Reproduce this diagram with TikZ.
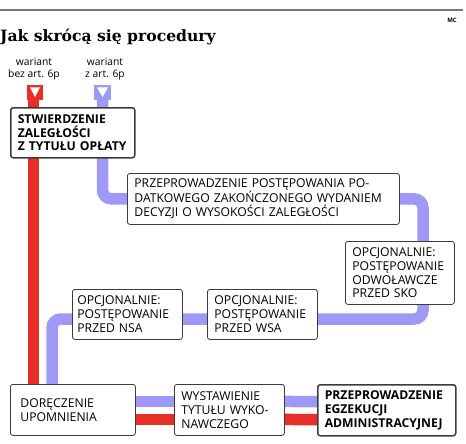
\documentclass[tikz,border=0pt]{standalone}
\usepackage{fontspec}
\setmainfont{Open Sans}
\newfontfamily\titlefont{DejaVu Serif}
\usetikzlibrary{backgrounds}
\definecolor{redc}{RGB}{232,46,40}
\definecolor{bluec}{RGB}{158,152,246}
\definecolor{boxc}{RGB}{60,60,60}
\definecolor{rulec}{RGB}{120,120,120}
\tikzset{
  stepbox/.style={draw=boxc, fill=white, rounded corners=2.5pt, line width=0.8pt,
    align=left, anchor=north west, inner xsep=7pt, inner ysep=0pt,
    font=\fontsize{12.2}{13.8}\selectfont},
  boldbox/.style={stepbox, line width=1.5pt, font=\fontsize{12.2}{13.8}\selectfont\bfseries},
  redl/.style={draw=redc, line width=11.5pt},
  bluel/.style={draw=bluec, line width=11.5pt, rounded corners=9pt},
  lbl/.style={font=\fontsize{10.3}{11.8}\selectfont, align=center, inner sep=0pt}
}
\begin{document}
\begin{tikzpicture}[x=1pt,y=-1pt]
\useasboundingbox (0,0) rectangle (466,444);
% header
\draw[rulec, line width=1.2pt] (0,10) -- (463,10);
\node[font=\fontsize{6}{7}\selectfont\bfseries, inner sep=0pt] (mc) at (452,20) {MC};
\node[font=\titlefont\fontsize{15.6}{19}\selectfont\bfseries, anchor=base west, inner sep=0pt] (title) at (0,42) {Jak skrócą się procedury};
% variant labels
\node[lbl] (lred) at (34,69) {wariant\\bez art. 6p};
\node[lbl] (lblue) at (105,69) {wariant\\z art. 6p};
% markers
\fill[redc] (27,85) rectangle (43,100);
\fill[white] (30,87.5) -- (40,87.5) -- (35,97) -- cycle;
\fill[bluec] (94,85) rectangle (111,100);
\fill[white] (97,87.5) -- (108,87.5) -- (102.5,97) -- cycle;
\coordinate (redtop) at (33.5,99);
\coordinate (bluetop) at (102.5,99);
% boxes
\node[boldbox, text width=110pt, minimum height=50pt] (st) at (10,107) {STWIERDZENIE\\ZALEGŁOŚCI\\Z TYTUŁU OPŁATY};
\node[stepbox, text width=258pt, minimum height=51pt] (pd) at (127,173) {PRZEPROWADZENIE POSTĘPOWANIA PO-\\DATKOWEGO ZAKOŃCZONEGO WYDANIEM\\DECYZJI O WYSOKOŚCI ZALEGŁOŚCI};
\node[stepbox, text width=95pt, minimum height=63pt] (sko) at (345,241) {OPCJONALNIE:\\POSTĘPOWANIE\\ODWOŁAWCZE\\PRZED SKO};
\node[stepbox, text width=100pt, minimum height=50pt, inner xsep=5pt] (nsa) at (72,289) {OPCJONALNIE:\\POSTĘPOWANIE\\PRZED NSA};
\node[stepbox, text width=96pt, minimum height=50pt] (wsa) at (207,289) {OPCJONALNIE:\\POSTĘPOWANIE\\PRZED WSA};
\node[stepbox, text width=105pt, minimum height=51pt, inner xsep=10pt] (dor) at (10,384) {DORĘCZENIE\\UPOMNIENIA\\[13.8pt]};
\node[stepbox, text width=96pt, minimum height=51pt] (wy) at (174,384) {WYSTAWIENIE\\TYTUŁU WYKO-\\NAWCZEGO};
\node[boldbox, text width=124pt, minimum height=51pt] (eg) at (317,384) {PRZEPROWADZENIE\\EGZEKUCJI\\ADMINISTRACYJNEJ};
% connectors
\coordinate (cr) at (423,319);
\coordinate (cl) at (52,319);
\begin{pgfonlayer}{background}
\draw[redl] (redtop) -- (redtop |- dor.north);
\draw[bluel] (bluetop) |- (pd.west);
\draw[bluel] (pd.east) -| (cr) -- (cl) -- (cl |- dor.north);
\draw[bluel] ([yshift=8.5pt]dor.east) -- ([yshift=8.5pt]wy.west);
\draw[redl] ([yshift=-9.5pt]dor.east) -- ([yshift=-9.5pt]wy.west);
\draw[bluel] ([yshift=8.5pt]wy.east) -- ([yshift=8.5pt]eg.west);
\draw[redl] ([yshift=-9.5pt]wy.east) -- ([yshift=-9.5pt]eg.west);
\end{pgfonlayer}
\end{tikzpicture}
\end{document}
